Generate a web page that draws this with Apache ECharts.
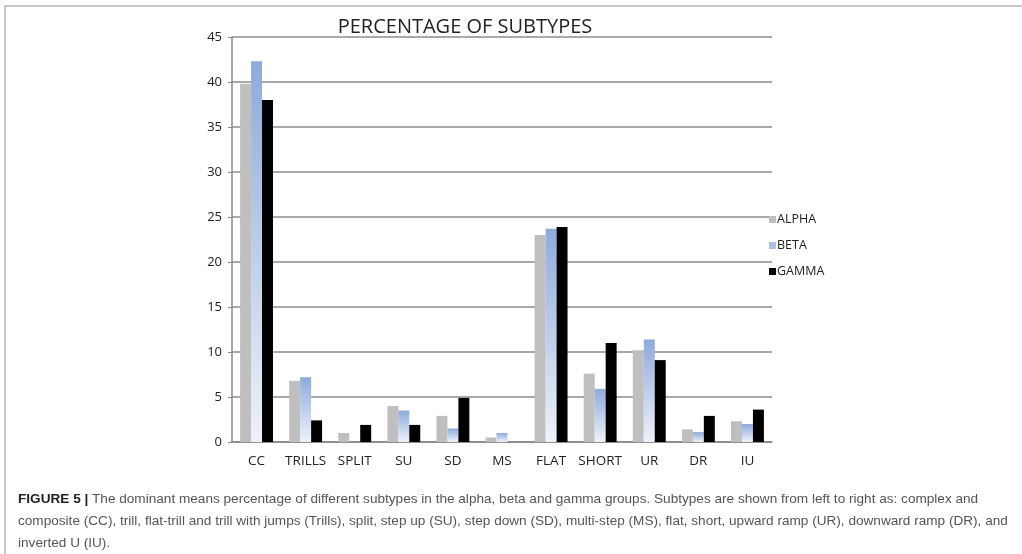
<!DOCTYPE html>
<html>
<head>
<meta charset="utf-8">
<script src="https://cdn.jsdelivr.net/npm/echarts@6/dist/echarts.min.js"></script>
<style>
  html, body { margin: 0; padding: 0; background: #fff; }
  #main { width: 1022px; height: 554px; }
</style>
</head>
<body>
<div id="main"></div>
<script>
// data
var categories = ['CC', 'TRILLS', 'SPLIT', 'SU', 'SD', 'MS', 'FLAT', 'SHORT', 'UR', 'DR', 'IU'];
var alpha = [39.8, 6.8, 1.0, 4.0, 2.9, 0.5, 23.0, 7.6, 10.2, 1.4, 2.3];
var beta  = [42.3, 7.2, 0, 3.5, 1.5, 1.0, 23.7, 5.9, 11.4, 1.1, 2.0];
var gamma = [38.0, 2.4, 1.9, 1.9, 4.9, 0, 23.9, 11.0, 9.1, 2.9, 3.6];
var yTicks = { min: 0, max: 45, step: 5 };

var captionLines = [
    'The dominant means percentage of different subtypes in the alpha, beta and gamma groups. Subtypes are shown from left to right as: complex and',
    'composite (CC), trill, flat-trill and trill with jumps (Trills), split, step up (SU), step down (SD), multi-step (MS), flat, short, upward ramp (UR), downward ramp (DR), and',
    'inverted U (IU).'
];

var chart = echarts.init(document.getElementById('main'));

var betaFill = new echarts.graphic.LinearGradient(0, 0, 0, 1, [
    { offset: 0, color: '#8eaadc' },
    { offset: 1, color: '#eef2f9' }
]);

var option = {
    animation: false,
    backgroundColor: '#fff',
    title: {
        text: 'PERCENTAGE OF SUBTYPES',
        left: 460,
        textAlign: 'center',
        top: 12,
        textStyle: {
            fontFamily: 'Open Sans',
            fontWeight: 'normal',
            fontSize: 20,
            color: '#222'
        }
    },
    legend: {
        orient: 'vertical',
        left: 764,
        top: 208,
        itemWidth: 7,
        itemHeight: 7,
        itemGap: 13,
        icon: 'rect',
        textStyle: { fontFamily: 'Open Sans', fontSize: 12.5, color: '#222', padding: [0, 0, 0, -4] },
        data: [
            { name: 'ALPHA', itemStyle: { color: '#bfbfbf' } },
            { name: 'BETA', itemStyle: { color: '#a9bfe5' } },
            { name: 'GAMMA', itemStyle: { color: '#000' } }
        ]
    },
    grid: { left: 232, right: 250, top: 37, bottom: 112 },
    xAxis: {
        type: 'category',
        data: categories,
        axisLine: { lineStyle: { color: '#888', width: 1.5 } },
        axisTick: { show: false },
        axisLabel: { interval: 0, margin: 12, fontFamily: 'Open Sans', fontSize: 13.5, color: '#222' }
    },
    yAxis: {
        type: 'value',
        min: yTicks.min,
        max: yTicks.max,
        interval: yTicks.step,
        axisLine: { show: true, lineStyle: { color: '#888', width: 1.5 } },
        axisTick: { show: true, length: 4, lineStyle: { color: '#888' } },
        axisLabel: { margin: 10, fontFamily: 'Open Sans', fontSize: 13, color: '#222' },
        splitLine: { lineStyle: { color: '#8c8c8c', width: 1.5 } }
    },
    series: [
        {
            name: 'ALPHA', type: 'bar', data: alpha,
            barGap: '0%', barCategoryGap: '33%',
            itemStyle: { color: '#bfbfbf' }
        },
        {
            name: 'BETA', type: 'bar', data: beta,
            itemStyle: { color: betaFill }
        },
        {
            name: 'GAMMA', type: 'bar', data: gamma,
            itemStyle: { color: '#000' }
        }
    ],
    graphic: [
        {
            type: 'polyline',
            silent: true,
            shape: { points: [[5, 554], [5, 6], [1022, 6]] },
            style: { stroke: '#c6c6c6', lineWidth: 2, fill: null }
        },
        {
            type: 'text',
            left: 18,
            top: 488,
            style: {
                text: '{b|FIGURE 5 |} ' + captionLines[0] + '\n' + captionLines[1] + '\n' + captionLines[2],
                fontFamily: 'Liberation Sans',
                fontSize: 13.6,
                lineHeight: 22,
                fill: '#555',
                rich: {
                    b: { fontWeight: 'bold', fill: '#222', fontSize: 13.6, fontFamily: 'Liberation Sans' }
                }
            }
        }
    ]
};

chart.setOption(option);
</script>
</body>
</html>
